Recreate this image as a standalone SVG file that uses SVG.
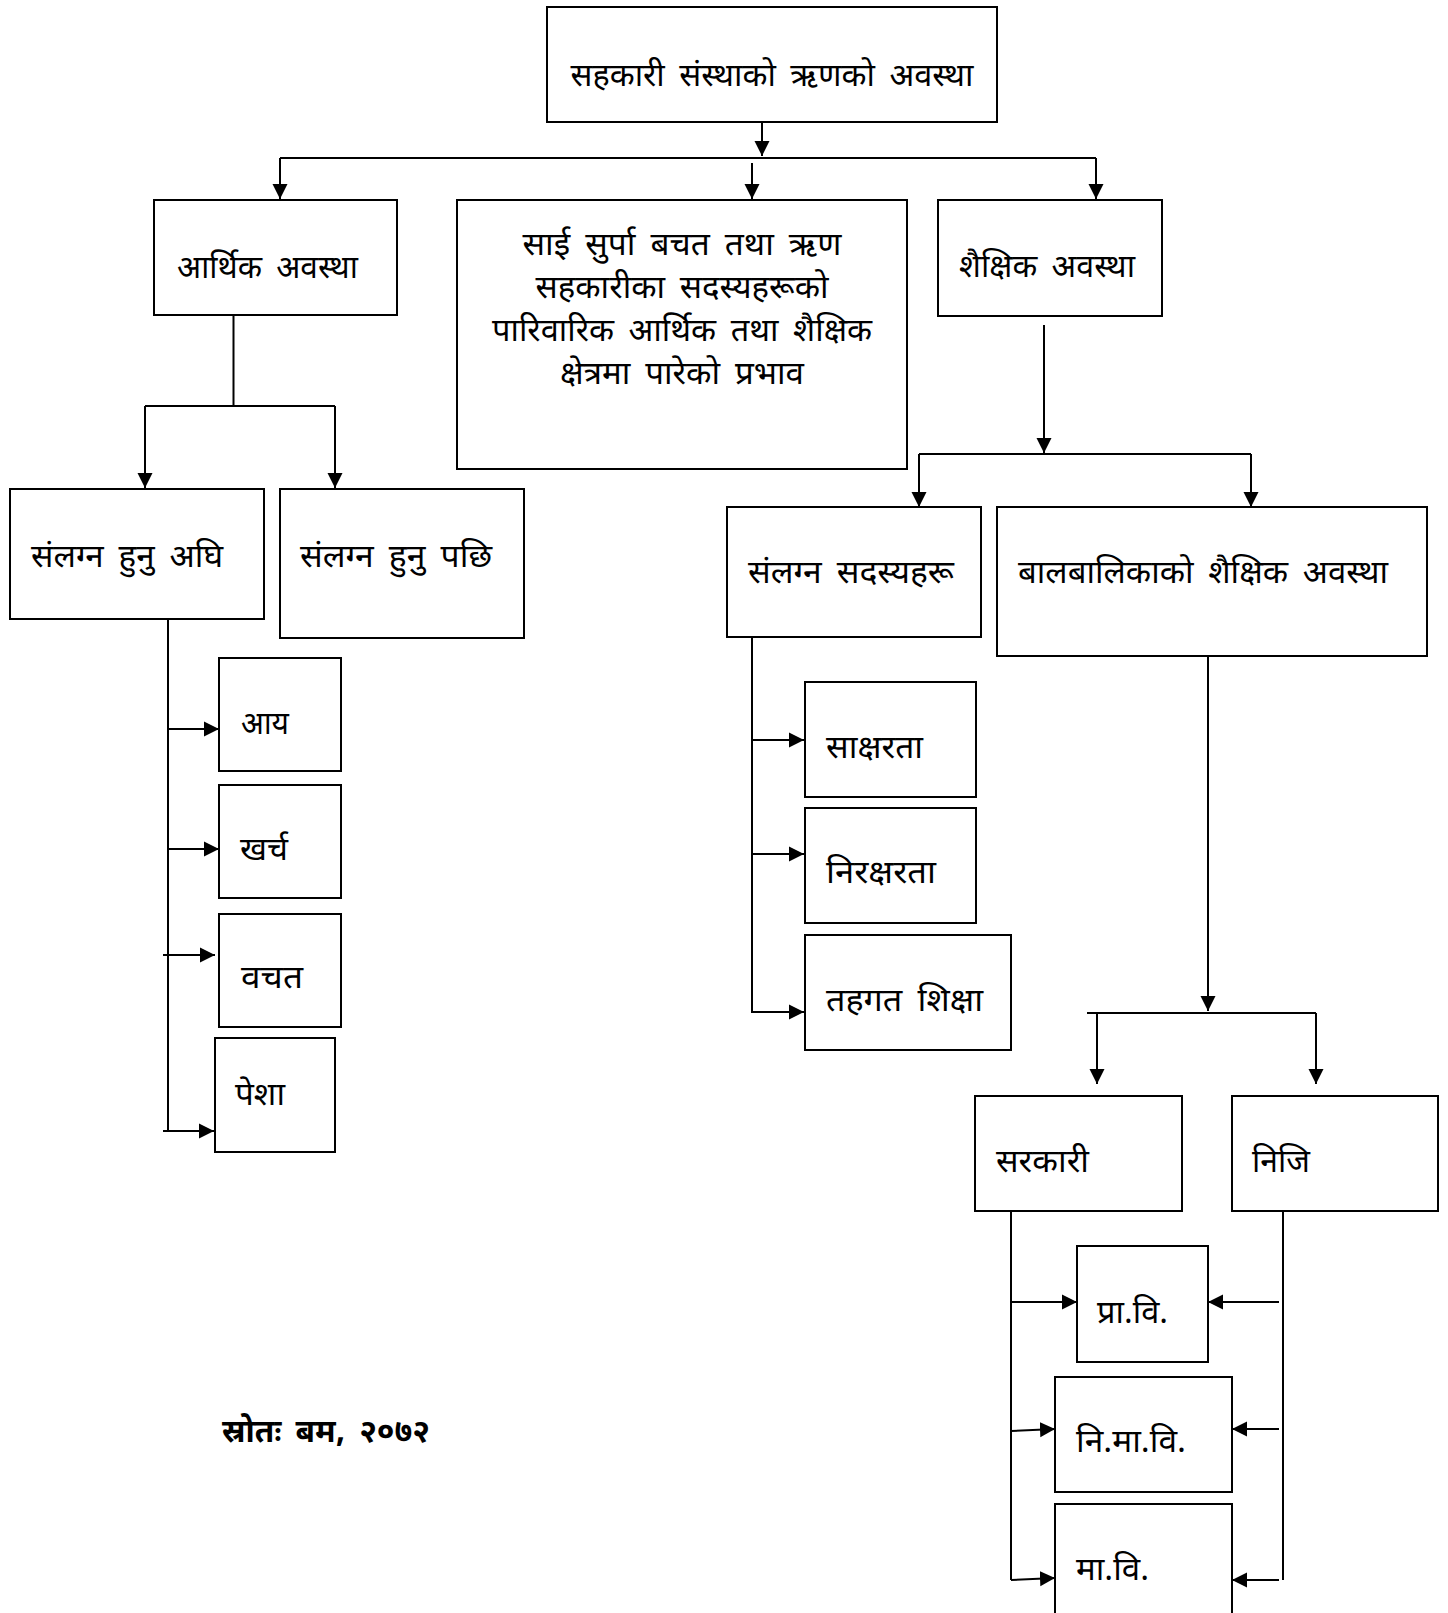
<svg xmlns="http://www.w3.org/2000/svg" width="1448" height="1613" viewBox="0 0 1448 1613">
<style>
.box{fill:#fff;stroke:#000;stroke-width:2}
.ln{fill:none;stroke:#000;stroke-width:2}
.ar{fill:none;stroke:#000;stroke-width:2;marker-end:url(#ah)}
text{font-family:"Noto Sans Devanagari","Noto Sans","Noto Serif Devanagari",sans-serif;font-size:32px;fill:#000;word-spacing:6px}
.c{text-anchor:middle}
.b{font-weight:bold}
</style>
<defs>
<marker id="ah" markerUnits="userSpaceOnUse" markerWidth="16" markerHeight="16" refX="15" refY="8" orient="auto">
<path d="M0,0.5 L15,8 L0,15.5 z" fill="#000"/>
</marker>
</defs>
<rect width="1448" height="1613" fill="#fff"/>
<g id="connectors">
<line class="ar" x1="762" y1="122" x2="762" y2="156"/>
<line class="ln" x1="280" y1="158" x2="1096" y2="158"/>
<line class="ar" x1="280" y1="158" x2="280" y2="199"/>
<line class="ar" x1="752" y1="163" x2="752" y2="199"/>
<line class="ar" x1="1096" y1="158" x2="1096" y2="199"/>
<line class="ln" x1="233.5" y1="315" x2="233.5" y2="406"/>
<line class="ln" x1="145" y1="406" x2="335" y2="406"/>
<line class="ar" x1="145" y1="406" x2="145" y2="488"/>
<line class="ar" x1="335" y1="406" x2="335" y2="488"/>
<line class="ln" x1="168" y1="619" x2="168" y2="1131"/>
<line class="ar" x1="168" y1="729" x2="219" y2="729"/>
<line class="ar" x1="168" y1="849" x2="219" y2="849"/>
<line class="ar" x1="163" y1="955" x2="215" y2="955"/>
<line class="ar" x1="163" y1="1131" x2="214" y2="1131"/>
<line class="ar" x1="1044" y1="325" x2="1044" y2="453"/>
<line class="ln" x1="919" y1="454" x2="1251" y2="454"/>
<line class="ar" x1="919" y1="454" x2="919" y2="507"/>
<line class="ar" x1="1251" y1="454" x2="1251" y2="507"/>
<polyline class="ar" points="752,637 752,1012 804,1012"/>
<line class="ar" x1="752" y1="740" x2="804" y2="740"/>
<line class="ar" x1="752" y1="854" x2="804" y2="854"/>
<line class="ar" x1="1208" y1="656" x2="1208" y2="1011"/>
<line class="ln" x1="1087" y1="1013" x2="1316" y2="1013"/>
<line class="ar" x1="1097" y1="1013" x2="1097" y2="1084"/>
<line class="ar" x1="1316" y1="1013" x2="1316" y2="1084"/>
<line class="ln" x1="1011" y1="1211" x2="1011" y2="1580"/>
<line class="ar" x1="1011" y1="1302" x2="1077" y2="1302"/>
<line class="ar" x1="1011" y1="1431" x2="1055" y2="1429"/>
<line class="ar" x1="1011" y1="1580" x2="1055" y2="1578"/>
<line class="ln" x1="1283" y1="1211" x2="1283" y2="1580"/>
<line class="ar" x1="1279" y1="1302" x2="1208" y2="1302"/>
<line class="ar" x1="1279" y1="1429" x2="1232" y2="1429"/>
<line class="ar" x1="1279" y1="1580" x2="1232" y2="1580"/>
</g>
<g id="n-top"><rect class="box" x="547" y="7" width="450" height="115"/><text class="c" x="772" y="86" textLength="403" lengthAdjust="spacingAndGlyphs">सहकारी संस्थाको ऋणको अवस्था</text></g>
<g id="n-aarthik"><rect class="box" x="154" y="200" width="243" height="115"/><text x="177" y="278" textLength="181" lengthAdjust="spacingAndGlyphs">आर्थिक अवस्था</text></g>
<g id="n-main"><rect class="box" x="457" y="200" width="450" height="269"/>
<text class="c" x="682" y="255" textLength="319" lengthAdjust="spacingAndGlyphs">साई सुर्पा बचत तथा ऋण</text>
<text class="c" x="682" y="298" textLength="293" lengthAdjust="spacingAndGlyphs">सहकारीका सदस्यहरूको</text>
<text class="c" x="682" y="341" textLength="380" lengthAdjust="spacingAndGlyphs">पारिवारिक आर्थिक तथा शैक्षिक</text>
<text class="c" x="682" y="384" textLength="244" lengthAdjust="spacingAndGlyphs">क्षेत्रमा पारेको प्रभाव</text></g>
<g id="n-shaikshik"><rect class="box" x="938" y="200" width="224" height="116"/><text x="959" y="277" textLength="176" lengthAdjust="spacingAndGlyphs">शैक्षिक अवस्था</text></g>
<g id="n-aghi"><rect class="box" x="10" y="489" width="254" height="130"/><text x="31" y="567" textLength="192" lengthAdjust="spacingAndGlyphs">संलग्न हुनु अघि</text></g>
<g id="n-pachhi"><rect class="box" x="280" y="489" width="244" height="149"/><text x="300" y="567" textLength="192" lengthAdjust="spacingAndGlyphs">संलग्न हुनु पछि</text></g>
<g id="n-aay"><rect class="box" x="219" y="658" width="122" height="113"/><text x="241" y="734" textLength="48" lengthAdjust="spacingAndGlyphs">आय</text></g>
<g id="n-kharcha"><rect class="box" x="219" y="785" width="122" height="113"/><text x="240" y="860" textLength="48" lengthAdjust="spacingAndGlyphs">खर्च</text></g>
<g id="n-wachat"><rect class="box" x="219" y="914" width="122" height="113"/><text x="241" y="988" textLength="62" lengthAdjust="spacingAndGlyphs">वचत</text></g>
<g id="n-pesha"><rect class="box" x="215" y="1038" width="120" height="114"/><text x="235" y="1105" textLength="50" lengthAdjust="spacingAndGlyphs">पेशा</text></g>
<g id="n-sadasya"><rect class="box" x="727" y="507" width="254" height="130"/><text x="748" y="583" textLength="206" lengthAdjust="spacingAndGlyphs">संलग्न सदस्यहरू</text></g>
<g id="n-balbalika"><rect class="box" x="997" y="507" width="430" height="149"/><text x="1018" y="583" textLength="370" lengthAdjust="spacingAndGlyphs">बालबालिकाको शैक्षिक अवस्था</text></g>
<g id="n-saksharata"><rect class="box" x="805" y="682" width="171" height="115"/><text x="826" y="758" textLength="97" lengthAdjust="spacingAndGlyphs">साक्षरता</text></g>
<g id="n-niraksharata"><rect class="box" x="805" y="808" width="171" height="115"/><text x="826" y="883" textLength="110" lengthAdjust="spacingAndGlyphs">निरक्षरता</text></g>
<g id="n-tahagat"><rect class="box" x="805" y="935" width="206" height="115"/><text x="826" y="1011" textLength="157" lengthAdjust="spacingAndGlyphs">तहगत शिक्षा</text></g>
<g id="n-sarkari"><rect class="box" x="975" y="1096" width="207" height="115"/><text x="996" y="1172" textLength="93" lengthAdjust="spacingAndGlyphs">सरकारी</text></g>
<g id="n-niji"><rect class="box" x="1232" y="1096" width="206" height="115"/><text x="1252" y="1172" textLength="58" lengthAdjust="spacingAndGlyphs">निजि</text></g>
<g id="n-prawi"><rect class="box" x="1077" y="1246" width="131" height="116"/><text x="1097" y="1323" textLength="71" lengthAdjust="spacingAndGlyphs">प्रा.वि.</text></g>
<g id="n-nimawi"><rect class="box" x="1055" y="1377" width="177" height="115"/><text x="1076" y="1452" textLength="110" lengthAdjust="spacingAndGlyphs">नि.मा.वि.</text></g>
<g id="n-mawi"><rect class="box" x="1055" y="1504" width="177" height="120"/><text x="1076" y="1580" textLength="73" lengthAdjust="spacingAndGlyphs">मा.वि.</text></g>
<text class="b" x="222" y="1442" textLength="208" lengthAdjust="spacingAndGlyphs">स्रोतः बम, २०७२</text>
</svg>
